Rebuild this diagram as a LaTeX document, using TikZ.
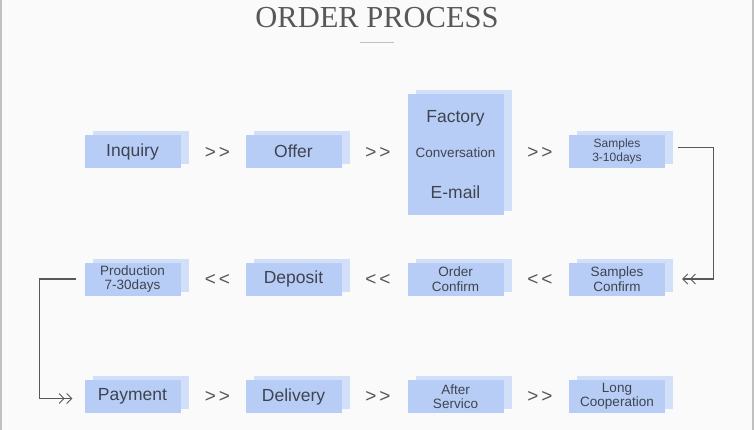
\documentclass[tikz,border=0pt]{standalone}
\usepackage{fontspec}
\setmainfont{Liberation Sans}
\newfontfamily\titlefont{Liberation Serif}
\usetikzlibrary{arrows.meta, positioning, shadows}

\definecolor{frontblue}{RGB}{184,205,245}
\definecolor{backblue}{RGB}{209,223,249}
\definecolor{pagebg}{RGB}{250,250,250}
\definecolor{framegray}{RGB}{192,192,192}
\definecolor{textgray}{RGB}{62,68,80}
\definecolor{linegray}{RGB}{88,88,88}

\begin{document}
\begin{tikzpicture}[
x=1pt, y=-1pt,
box/.style={
rectangle,
fill=frontblue,
minimum width=96pt,
minimum height=33pt,
inner sep=0pt,
align=center,
text=textgray,
copy shadow={shadow xshift=8pt, shadow yshift=4pt, fill=backblue, draw=none}
},
bigtext/.style={font=\fontsize{17.5}{20}\selectfont},
smalltext/.style={font=\fontsize{13.5}{14.5}\selectfont},
chev/.style={text=linegray, font=\fontsize{19}{20}\selectfont},
link/.style={draw=linegray, line width=1.1pt,
-{Straight Barb[length=5pt,width=10pt,line width=0.9pt,sep=1.5pt] Straight Barb[length=5pt,width=10pt,line width=0.9pt]}}
]

% Page
\fill[pagebg] (0,0) rectangle (754,430);
\fill[framegray] (0,0) rectangle (2,430);
\fill[framegray] (752,0) rectangle (754,430);

% Title
\node[text=linegray, font=\titlefont\fontsize{30.5}{32}\selectfont] (title) at (377,18) {ORDER PROCESS};
\draw[framegray, line width=1pt] ([xshift=-17pt,yshift=-11pt]title.south) -- ([xshift=17pt,yshift=-11pt]title.south);

% Row 1
\node[box, bigtext] (inquiry) at (132.5,151.5) {Inquiry};
\node[box, bigtext] (offer) at (293.5,151.5) {Offer};
\node[box, minimum height=121pt] (factory) at (455.5,154.5)
{{\fontsize{17.5}{20}\selectfont Factory}\\[21pt]
{\fontsize{13.5}{16}\selectfont Conversation}\\[27pt]
{\fontsize{17.5}{20}\selectfont E-mail}};
\node[box, font=\fontsize{12}{14}\selectfont] (samples) at (617,151.5) {Samples\\3-10days};

\node[chev] (c11) at (217.5,153) {>\kern3pt>};
\node[chev] (c12) at (378,153) {>\kern3pt>};
\node[chev] (c13) at (540,153) {>\kern3pt>};

% Row 2
\node[box, smalltext] (confirm) at (617,279) {Samples\\Confirm};
\node[box, smalltext] (order) at (455.5,279) {Order\\Confirm};
\node[box, bigtext] (deposit) at (293.5,279) {Deposit};
\node[box, smalltext] (production) at (132.5,279) {Production\\7-30days};

\node[chev] (c21) at (540,280) {<\kern3pt<};
\node[chev] (c22) at (378,280) {<\kern3pt<};
\node[chev] (c23) at (217.5,280) {<\kern3pt<};

% Row 3
\node[box, bigtext] (payment) at (132.5,396.5) {Payment};
\node[box, bigtext] (delivery) at (293.5,396.5) {Delivery};
\node[box, smalltext] (after) at (455.5,396.5) {After\\Servico};
\node[box, smalltext] (long) at (617,396.5) {Long\\Cooperation};

\node[chev] (c31) at (217.5,397) {>\kern3pt>};
\node[chev] (c32) at (378,397) {>\kern3pt>};
\node[chev] (c33) at (540,397) {>\kern3pt>};

% Links between rows
\draw[link] ([xshift=13pt,yshift=4pt]samples.east) -- ++(35pt,0) |- ([xshift=17pt]confirm.east);
\draw[link] ([xshift=-8pt]production.west) -- ++(-37pt,0) |- ([xshift=-12pt,yshift=-2pt]payment.west);

\end{tikzpicture}
\end{document}
